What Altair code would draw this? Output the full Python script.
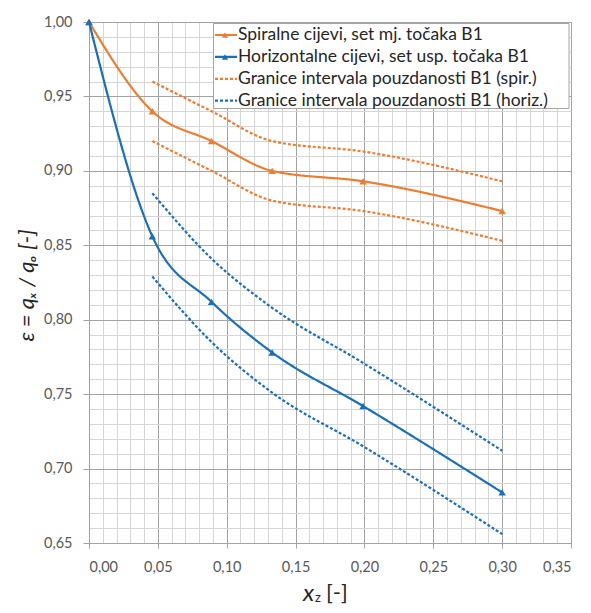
import altair as alt
import pandas as pd

# ---- data ----
S1 = "Spiralne cijevi, set mj. točaka B1"
S2 = "Horizontalne cijevi, set usp. točaka B1"
S3 = "Granice intervala pouzdanosti B1 (spir.)"
S4 = "Granice intervala pouzdanosti B1 (horiz.)"
series_names = [S1, S2, S3, S4]
series_colors = ["#ED7D31", "#1A6FBD", "#ED7D31", "#1A6FBD"]
series_marked = [True, True, False, False]

x_meas = [0.0, 0.046, 0.089, 0.133, 0.199, 0.30]
spiral = [1.000, 0.940, 0.920, 0.900, 0.893, 0.873]
horiz = [1.000, 0.856, 0.812, 0.778, 0.742, 0.684]

x_ci = [0.046, 0.089, 0.133, 0.199, 0.30]
spiral_up = [0.960, 0.940, 0.920, 0.913, 0.893]
spiral_lo = [0.920, 0.900, 0.880, 0.873, 0.853]
horiz_up = [0.885, 0.841, 0.808, 0.771, 0.712]
horiz_lo = [0.829, 0.785, 0.751, 0.715, 0.656]

x_ticks = [round(i * 0.01, 2) for i in range(36)]
y_ticks = [round(0.65 + i * 0.01, 2) for i in range(36)]

rows = []
def add(xs, ys, s, lid):
    for a, b in zip(xs, ys):
        rows.append({"x": a, "y": b, "series": s, "line": lid})

add(x_meas, spiral, S1, "s")
add(x_meas, horiz, S2, "h")
add(x_ci, spiral_up, S3, "su")
add(x_ci, spiral_lo, S3, "sl")
add(x_ci, horiz_up, S4, "hu")
add(x_ci, horiz_lo, S4, "hl")
df = pd.DataFrame(rows)
df_pts = df[df["series"].isin([S1, S2])]

leg_df = pd.DataFrame({"series": series_names, "row": list(range(4)), "marked": series_marked})

FONT = "Lato"
MAJ = "abs(datum.value*20 - round(datum.value*20)) < 0.001"
LBL = f"{MAJ} ? replace(format(datum.value, '.2f'), '.', ',') : ''"
GRIDC = {"condition": {"test": MAJ, "value": "#a3a3a3"}, "value": "#d6d6d6"}
TICKC = {"condition": {"test": MAJ, "value": "#a3a3a3"}, "value": "transparent"}

xscale = alt.Scale(domain=[0, 0.35], nice=False, zero=False)
yscale = alt.Scale(domain=[0.65, 1.0], nice=False, zero=False)
cscale = alt.Scale(domain=series_names, range=series_colors)
dscale = alt.Scale(domain=series_names, range=[[1, 0], [1, 0], [3, 2], [3, 2]])
wscale = alt.Scale(domain=series_names, range=[2.2, 2.2, 0.9, 0.9])

xaxis = alt.Axis(values=x_ticks, tickCount=40, labelExpr=LBL, grid=True, gridColor=GRIDC,
                 tickColor=TICKC, tickSize=5, labelOverlap=False,
                 labelFont=FONT, labelFontSize=14.5, labelColor="#595959",
                 labelPadding=12, domainColor="#a3a3a3", title=None)
yaxis = alt.Axis(values=y_ticks, tickCount=40, labelExpr=LBL, grid=True, gridColor=GRIDC,
                 tickColor=TICKC, tickSize=6, labelOverlap=False,
                 labelFont=FONT, labelFontSize=14.5, labelColor="#595959",
                 labelPadding=11, domainColor="#a3a3a3",
                 title="ε = qₓ / qₒ [-]", titleFont=FONT, titleFontSize=22,
                 titleFontStyle="italic", titleFontWeight="normal",
                 titleColor="#262626", titleX=-51, titleY=263)

lines = alt.Chart(df).mark_line(interpolate="monotone").encode(
    x=alt.X("x:Q", scale=xscale, axis=xaxis),
    y=alt.Y("y:Q", scale=yscale, axis=yaxis),
    color=alt.Color("series:N", scale=cscale, legend=None),
    strokeDash=alt.StrokeDash("series:N", scale=dscale, legend=None),
    strokeWidth=alt.StrokeWidth("series:N", scale=wscale, legend=None),
    detail="line:N",
    order="x:Q",
)

pts = alt.Chart(df_pts).mark_point(shape="triangle-up", filled=True, size=55, opacity=1).encode(
    x=alt.X("x:Q", scale=xscale, axis=xaxis),
    y=alt.Y("y:Q", scale=yscale, axis=yaxis),
    color=alt.Color("series:N", scale=cscale, legend=None),
)

# ---- legend (drawn as marks, pixel layout inside the plot) ----
one = alt.Data(values=[{}])
leg_box = alt.Chart(one).mark_rect(fill="white", stroke="#a6a6a6", strokeWidth=1).encode(
    x=alt.value(124.5), x2=alt.value(480), y=alt.value(1.5), y2=alt.value(86.5))
leg_base = alt.Chart(leg_df).transform_calculate(py="13 + 21.9 * datum.row")
leg_lines = leg_base.mark_rule().encode(
    x=alt.value(126), x2=alt.value(148), y=alt.Y("py:Q", scale=None),
    color=alt.Color("series:N", scale=cscale, legend=None),
    strokeDash=alt.StrokeDash("series:N", scale=dscale, legend=None),
    strokeWidth=alt.StrokeWidth("series:N", scale=wscale, legend=None),
)
leg_pts = leg_base.transform_filter("datum.marked").mark_point(
    shape="triangle-up", filled=True, size=40, opacity=1).encode(
    x=alt.value(136), y=alt.Y("py:Q", scale=None),
    color=alt.Color("series:N", scale=cscale, legend=None),
)
leg_text = leg_base.mark_text(align="left", baseline="middle", font=FONT, fontSize=17.5,
                              color="#262626").encode(
    x=alt.value(149), y=alt.Y("py:Q", scale=None), text="series:N")

# ---- x axis title with subscript ----
t_x = alt.Chart(one).mark_text(text="x", font=FONT, fontSize=24, fontStyle="italic", align="left",
                               baseline="alphabetic", color="#262626").encode(x=alt.value(214), y=alt.value(579))
t_z = alt.Chart(one).mark_text(text="z", font=FONT, fontSize=13, align="left",
                               baseline="alphabetic", color="#262626").encode(x=alt.value(226), y=alt.value(580))
t_b = alt.Chart(one).mark_text(text="[-]", font=FONT, fontSize=22, align="left",
                               baseline="alphabetic", color="#262626").encode(x=alt.value(237), y=alt.value(578))

chart = alt.layer(lines, pts, leg_box, leg_lines, leg_pts, leg_text, t_x, t_z, t_b).properties(
    width=482, height=521,
    autosize=alt.AutoSizeParams(type="none"),
    padding={"left": 81, "top": 14, "right": 12, "bottom": 62},
).configure_view(stroke=None).configure(background="white")

chart.save("out.html", embed_options={"renderer": "svg", "actions": False})
